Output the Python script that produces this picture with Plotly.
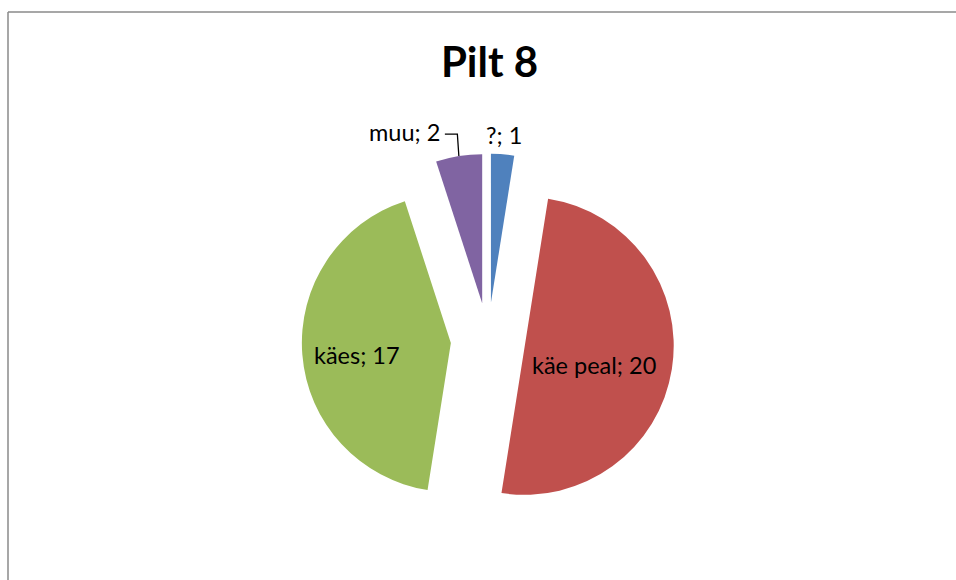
import math
import plotly.graph_objects as go

labels = ["?", "käe peal", "käes", "muu"]
values = [1, 20, 17, 2]
colors = ["#4F81BD", "#C0504D", "#9BBB59", "#8064A2"]
title_text = "Pilt 8"

W, H = 956, 580
pull = 0.25
# pie geometry (pixels): centre and domain size
CX, CY, R = 488, 340, 149
box = 2 * R * (1 + pull)

def px(x, y):
    return x / W, 1 - y / H

dom_x = [(CX - box / 2) / W, (CX + box / 2) / W]
dom_y = [1 - (CY + box / 2) / H, 1 - (CY - box / 2) / H]

fig = go.Figure(go.Pie(
    labels=labels,
    values=values,
    sort=False,
    direction="clockwise",
    rotation=0,
    pull=[pull] * len(values),
    marker=dict(colors=colors, line=dict(width=0)),
    textinfo="none",
    showlegend=False,
    hoverinfo="label+value+percent",
    domain=dict(x=dom_x, y=dom_y),
))

# label placement: radial distance (in radii, from unpulled centre) + small nudges
label_k = [1.38, 0.73, 0.88, 1.40]
label_nudge = [(0, 0), (-1, 8), (0, 5), (0, 0)]
label_anchor = ["center", "center", "center", "right"]

total = sum(values)
annotations = []
shapes = []
cum = 0
for i, (lab, v) in enumerate(zip(labels, values)):
    a0 = cum / total * 360
    cum += v
    a1 = cum / total * 360
    mid = math.radians((a0 + a1) / 2)
    dx, dy = math.sin(mid), -math.cos(mid)
    lx = CX + label_k[i] * R * dx + label_nudge[i][0]
    ly = CY + label_k[i] * R * dy + label_nudge[i][1]
    if label_anchor[i] == "right":
        # leader line from arc midpoint up and left to label
        ax = CX + (pull + 1) * R * dx
        ay = CY + (pull + 1) * R * dy
        ly = ay - 24
        lx = ax - 17
        shapes.append(dict(type="path", xref="paper", yref="paper",
                           path="M {} {} L {} {} L {} {}".format(
                               *px(ax, ay), *px(ax - 1.5, ly + 2), *px(lx + 3, ly + 2)),
                           line=dict(color="black", width=1.3)))
    x, y = px(lx, ly)
    annotations.append(dict(x=x, y=y, xref="paper", yref="paper",
                            text=f"{lab}; {v}", showarrow=False,
                            xanchor=label_anchor[i], yanchor="middle",
                            font=dict(family="Lato", size=23.5, color="black")))

# chart-area border (left and top edges visible)
bx, by = 8 / W, 1 - 12 / H
shapes.append(dict(type="line", xref="paper", yref="paper", x0=bx, y0=-0.01, x1=bx, y1=by,
                   line=dict(color="#8a8a8a", width=1.5)))
shapes.append(dict(type="line", xref="paper", yref="paper", x0=bx, y0=by, x1=1.01, y1=by,
                   line=dict(color="#8a8a8a", width=1.5)))

fig.update_layout(
    width=W, height=H,
    margin=dict(l=0, r=0, t=0, b=0),
    paper_bgcolor="white",
    font=dict(family="Lato", color="black"),
    title=dict(text="<b>" + title_text + "</b>", x=489.5 / W, xanchor="center",
               y=1 - 62 / H, yanchor="middle",
               font=dict(family="Lato", size=42, color="black")),
    annotations=annotations,
    shapes=shapes,
)

fig.write_html("out.html", config={"displayModeBar": False},
               post_script=("document.body.style.margin='0';"
                            "document.body.style.overflow='hidden';"
                            "document.documentElement.style.overflow='hidden';"))
